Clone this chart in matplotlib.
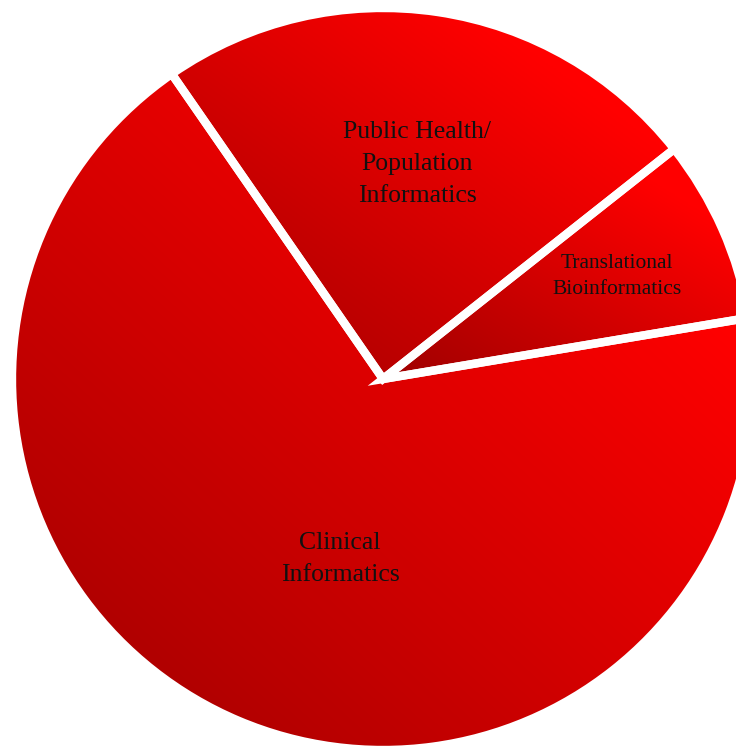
import numpy as np
import matplotlib
matplotlib.use('Agg')
import matplotlib.pyplot as plt
from matplotlib.colors import LinearSegmentedColormap

# --- dados ---
categories = ['Translational\nBioinformatics', 'Public Health/\nPopulation\nInformatics', 'Clinical\nInformatics']
shares = [8, 24, 68]

# --- estilo ---
plt.rcParams['font.family'] = ['Liberation Serif', 'DejaVu Serif']
red_grad = LinearSegmentedColormap.from_list(
    'red_grad', [(0.0, '#9e0000'), (0.8, '#ff0000'), (1.0, '#ff0000')])

W, H = 736, 746
fig = plt.figure(figsize=(W / 100, H / 100), dpi=100)
ax = fig.add_axes([0, 0, 1, 1])

center = (383, 367)
radius = 371
wedges, _ = ax.pie(shares, startangle=9.5, counterclock=True, center=center,
                   radius=radius, frame=False,
                   wedgeprops=dict(facecolor='none', edgecolor='white',
                                   linewidth=6, joinstyle='miter'))

# gradiente diagonal em cada fatia (escuro embaixo-esquerda, claro em cima-direita)
yy, xx = np.mgrid[0:1:200j, 0:1:200j]
grad = (xx + yy) / 2
for w in wedges:
    ext = w.get_path().get_extents(w.get_patch_transform())
    im = ax.imshow(grad, cmap=red_grad, vmin=0, vmax=1, origin='lower',
                   extent=(ext.x0, ext.x1, ext.y0, ext.y1),
                   interpolation='bilinear', zorder=0.5)
    im.set_clip_path(w)
    w.set_zorder(2)

# rótulos
label_pos = [(617, 470), (417, 582), (340, 187)]
label_size = [15.5, 18.5, 18.5]
label_ls = [1.5, 1.6, 1.6]
for txt, (x, y), fs, ls in zip(categories, label_pos, label_size, label_ls):
    ax.text(x, y, txt, ha='center', va='center', fontsize=fs,
            linespacing=ls, color='#111111', zorder=3)

ax.set_xlim(0, W)
ax.set_ylim(0, H)
ax.set_aspect('equal')
ax.axis('off')

fig.savefig('out.png', dpi=100)
